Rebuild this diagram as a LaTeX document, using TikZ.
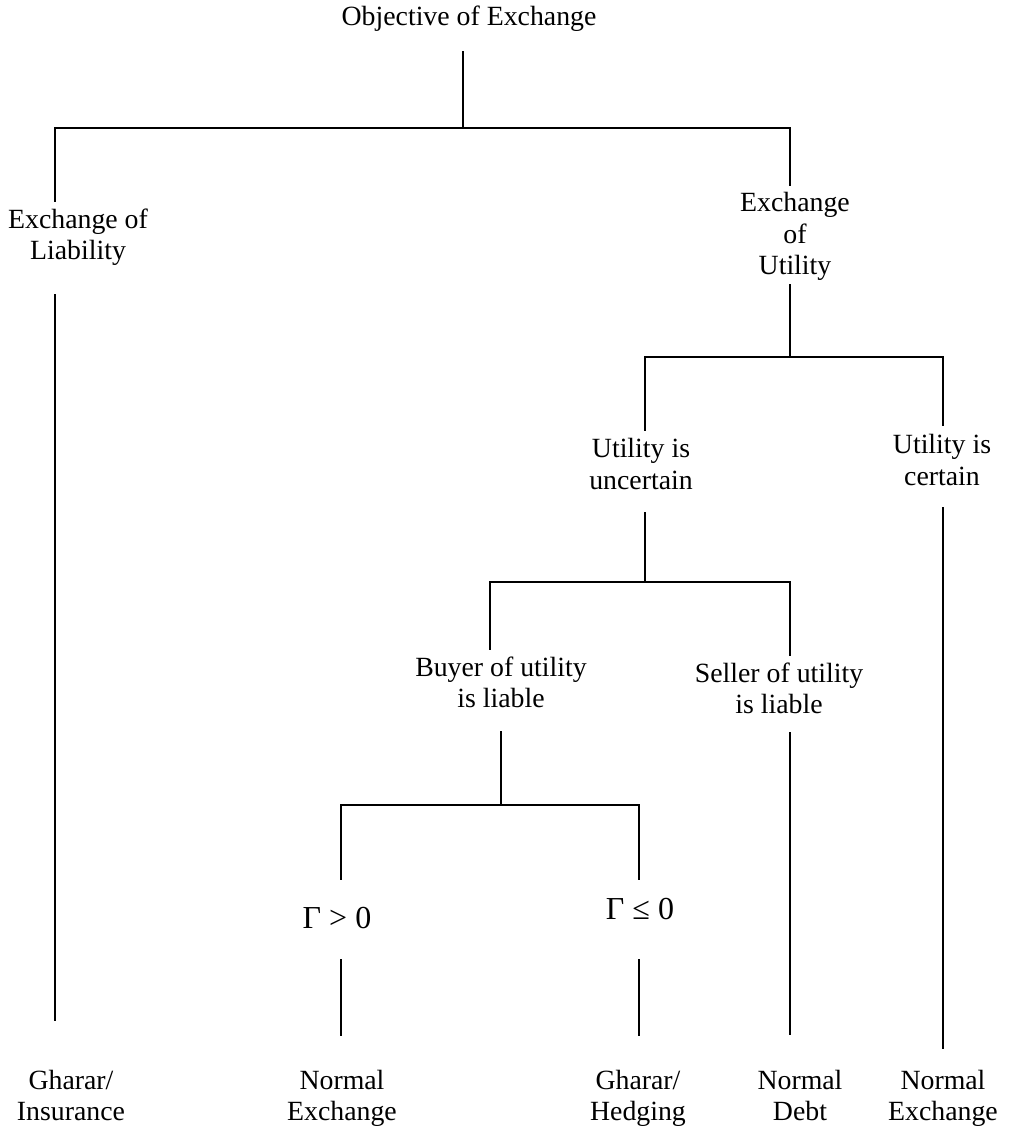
\documentclass[tikz,border=0pt]{standalone}
\usepackage{fontspec}
\setmainfont{Liberation Serif}
\begin{document}
\begin{tikzpicture}[x=1pt,y=-1pt,
  lbl/.style={align=center,inner sep=0pt,font=\fontsize{27.8}{31.5}\selectfont,
    execute at begin node=\strut,execute at end node=\strut},
  cond/.style={inner sep=0pt,anchor=base,font=\fontsize{32}{36}\selectfont},
  link/.style={line width=1.7pt,line cap=rect}]
\useasboundingbox (0,0) rectangle (1009,1128);

% labels of the tree
\node[lbl] (root)   at (469,19.5)  {Objective of Exchange};
\node[lbl] (liab)   at (78,239)    {Exchange of\\Liability};
\node[lbl] (util)   at (795,238.5) {Exchange\\of\\Utility};
\node[lbl] (uncert) at (641,468.5) {Utility is\\uncertain};
\node[lbl] (cert)   at (942,464.5) {Utility is\\certain};
\node[lbl] (buyer)  at (501,687)   {Buyer of utility\\is liable};
\node[lbl] (seller) at (779,693)   {Seller of utility\\is liable};
\node[cond] (gpos)  at (337,928)   {Γ > 0};
\node[cond] (gneg)  at (640,919)   {Γ ≤ 0};
\node[lbl] (ins)    at (71,1100)   {Gharar/\\Insurance};
\node[lbl] (nex1)   at (342,1100)  {Normal\\Exchange};
\node[lbl] (hedge)  at (638,1100)  {Gharar/\\Hedging};
\node[lbl] (debt)   at (800,1100)  {Normal\\Debt};
\node[lbl] (nex2)   at (943,1100)  {Normal\\Exchange};

% end points of the connectors
\coordinate (root-s)   at (463,52);
\coordinate (fork1)    at (463,128);
\coordinate (f1-l)     at (55,128);
\coordinate (f1-r)     at (790,128);
\coordinate (liab-n)   at (55,201);
\coordinate (util-n)   at (790,185);
\coordinate (liab-s)   at (55,295);
\coordinate (ins-n)    at (55,1020);
\coordinate (util-s)   at (790,285);
\coordinate (fork2)    at (790,357);
\coordinate (f2-l)     at (645,357);
\coordinate (f2-r)     at (943,357);
\coordinate (uncert-n) at (645,430);
\coordinate (cert-n)   at (943,425);
\coordinate (uncert-s) at (645,513);
\coordinate (fork3)    at (645,582);
\coordinate (f3-l)     at (490,582);
\coordinate (f3-r)     at (790,582);
\coordinate (buyer-n)  at (490,649);
\coordinate (seller-n) at (790,655);
\coordinate (cert-s)   at (943,508);
\coordinate (nex2-n)   at (943,1048);
\coordinate (seller-s) at (790,733);
\coordinate (debt-n)   at (790,1034);
\coordinate (buyer-s)  at (501,732);
\coordinate (fork4)    at (501,805);
\coordinate (f4-l)     at (341,805);
\coordinate (f4-r)     at (639,805);
\coordinate (gpos-n)   at (341,879);
\coordinate (gneg-n)   at (639,879);
\coordinate (gpos-s)   at (341,960);
\coordinate (nex1-n)   at (341,1035);
\coordinate (gneg-s)   at (639,960);
\coordinate (hedge-n)  at (639,1035);

% connectors
\draw[link] (root-s) -- (fork1);
\draw[link] (liab-n) -- (f1-l) -- (f1-r) -- (util-n);
\draw[link] (liab-s) -- (ins-n);
\draw[link] (util-s) -- (fork2);
\draw[link] (uncert-n) -- (f2-l) -- (f2-r) -- (cert-n);
\draw[link] (uncert-s) -- (fork3);
\draw[link] (buyer-n) -- (f3-l) -- (f3-r) -- (seller-n);
\draw[link] (cert-s) -- (nex2-n);
\draw[link] (seller-s) -- (debt-n);
\draw[link] (buyer-s) -- (fork4);
\draw[link] (gpos-n) -- (f4-l) -- (f4-r) -- (gneg-n);
\draw[link] (gpos-s) -- (nex1-n);
\draw[link] (gneg-s) -- (hedge-n);
\end{tikzpicture}
\end{document}
